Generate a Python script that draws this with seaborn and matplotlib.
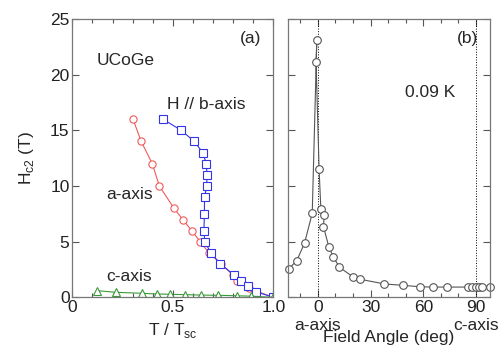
import numpy as np
import pandas as pd
import seaborn as sns
import matplotlib.pyplot as plt
from matplotlib.ticker import MultipleLocator

# (a) Hc2 vs T/Tsc
a_t = [0.302, 0.343, 0.398, 0.433, 0.506, 0.551, 0.596, 0.637, 0.68, 0.74, 0.80, 0.82, 0.88, 1.0]
a_h = [16.0, 14.0, 12.0, 10.0, 8.0, 6.95, 5.95, 4.97, 4.0, 3.0, 2.0, 1.5, 0.8, 0.0]

b_t = [0.451, 0.542, 0.607, 0.649, 0.667, 0.670, 0.669, 0.658, 0.657, 0.657, 0.655,
       0.659, 0.689, 0.737, 0.805, 0.839, 0.874, 0.914, 1.0]
b_h = [16.0, 15.0, 14.0, 13.0, 12.0, 11.0, 10.0, 9.0, 8.0, 7.0, 6.0,
       5.0, 4.0, 3.0, 2.0, 1.5, 1.0, 0.5, 0.0]

c_t = [0.121, 0.217, 0.348, 0.42, 0.486, 0.562, 0.639, 0.727, 0.818, 0.889, 1.0]
c_h = [0.6, 0.45, 0.36, 0.3, 0.27, 0.24, 0.2, 0.18, 0.14, 0.1, 0.0]

# (b) Hc2 vs field angle at 0.09 K
ang = [-16.7, -12.0, -7.6, -3.2, -0.6, -1.0, 0.7, 1.7, 3.6, 3.2, 6.3, 8.9, 12.3,
       19.9, 24.1, 37.9, 48.2, 57.9, 65.3, 73.5, 85.6, 87.7, 90.0, 91.9, 93.6, 98.1]
ang_h = [2.54, 3.3, 4.86, 7.55, 23.1, 21.1, 11.5, 7.94, 7.4, 6.35, 4.5, 3.6, 2.7,
         1.85, 1.62, 1.2, 1.08, 0.95, 0.92, 0.92, 0.92, 0.92, 0.92, 0.92, 0.92, 0.93]

sns.set_style("ticks")
plt.rcParams['font.family'] = ['Liberation Sans', 'DejaVu Sans']
fs = 12.5

fig = plt.figure(figsize=(5, 3.49), dpi=100)
ax1 = fig.add_axes([0.1446, 0.1481, 0.402, 0.7974])
ax2 = fig.add_axes([0.576, 0.1481, 0.404, 0.7974])

red, blue, green = '#f05a5a', '#3535e8', '#3a9a3a'
mk = dict(markerfacecolor='white', markersize=5.2, markeredgewidth=0.8, linewidth=0.8)

sns.lineplot(x=a_t, y=a_h, ax=ax1, sort=False, color=red, marker='o', markeredgecolor=red, **mk)
sns.lineplot(x=b_t, y=b_h, ax=ax1, sort=False, color=blue, marker='s', markeredgecolor=blue, **mk)
sns.lineplot(x=c_t, y=c_h, ax=ax1, sort=False, color=green, marker='^', markeredgecolor=green, **mk)

ax2.axvline(0, color='k', ls=':', lw=0.7)
ax2.axvline(90, color='k', ls=':', lw=0.7)
sns.lineplot(x=ang, y=ang_h, ax=ax2, sort=False, color='#555555', marker='o',
             markeredgecolor='#555555', clip_on=False, **dict(mk, markersize=5.5))

for ax in (ax1, ax2):
    ax.set_ylim(0, 25)
    ax.yaxis.set_major_locator(MultipleLocator(5))
    ax.tick_params(which='both', direction='in', top=True, right=True,
                   colors='#555555', labelcolor='#222222', labelsize=fs, pad=2)
    ax.tick_params(which='major', length=5, width=0.8)
    ax.tick_params(which='minor', length=3, width=0.8)
    for s in ax.spines.values():
        s.set_color('#777777')
        s.set_linewidth(0.9)

ax1.set_xlim(0, 1.0)
ax1.xaxis.set_minor_locator(MultipleLocator(0.1))
ax1.set_xticks([0, 0.5, 1.0])
ax1.set_xticklabels(['0', '0.5', '1.0'])
ax1.set_xlabel(r'T / T$_{\mathregular{sc}}$', fontsize=fs, labelpad=4)
ax1.set_ylabel(r'H$_{\mathregular{c2}}$ (T)', fontsize=fs, labelpad=10)
ax1.text(0.94, 0.93, '(a)', transform=ax1.transAxes, ha='right', va='center', fontsize=fs)
ax1.text(0.12, 0.835, 'UCoGe', fontsize=fs, transform=ax1.transAxes)
ax1.text(0.47, 0.675, 'H // b-axis', fontsize=fs, transform=ax1.transAxes)
ax1.text(0.17, 0.355, 'a-axis', fontsize=fs, transform=ax1.transAxes)
ax1.text(0.17, 0.06, 'c-axis', fontsize=fs, transform=ax1.transAxes)

ax2.set_xlim(-17, 98)
ax2.set_xticks([0, 30, 60, 90])
ax2.xaxis.set_minor_locator(MultipleLocator(10))
ax2.set_yticklabels([])
ax2.set_xlabel('Field Angle (deg)', fontsize=fs, labelpad=11)
ax2.text(0.94, 0.93, '(b)', transform=ax2.transAxes, ha='right', va='center', fontsize=fs)
ax2.text(0.58, 0.72, '0.09 K', fontsize=fs, transform=ax2.transAxes)
ax2.text(0, -0.075, 'a-axis', ha='center', va='top', fontsize=fs,
         transform=ax2.get_xaxis_transform())
ax2.text(90, -0.075, 'c-axis', ha='center', va='top', fontsize=fs,
         transform=ax2.get_xaxis_transform())

fig.savefig('out.png', dpi=100)
